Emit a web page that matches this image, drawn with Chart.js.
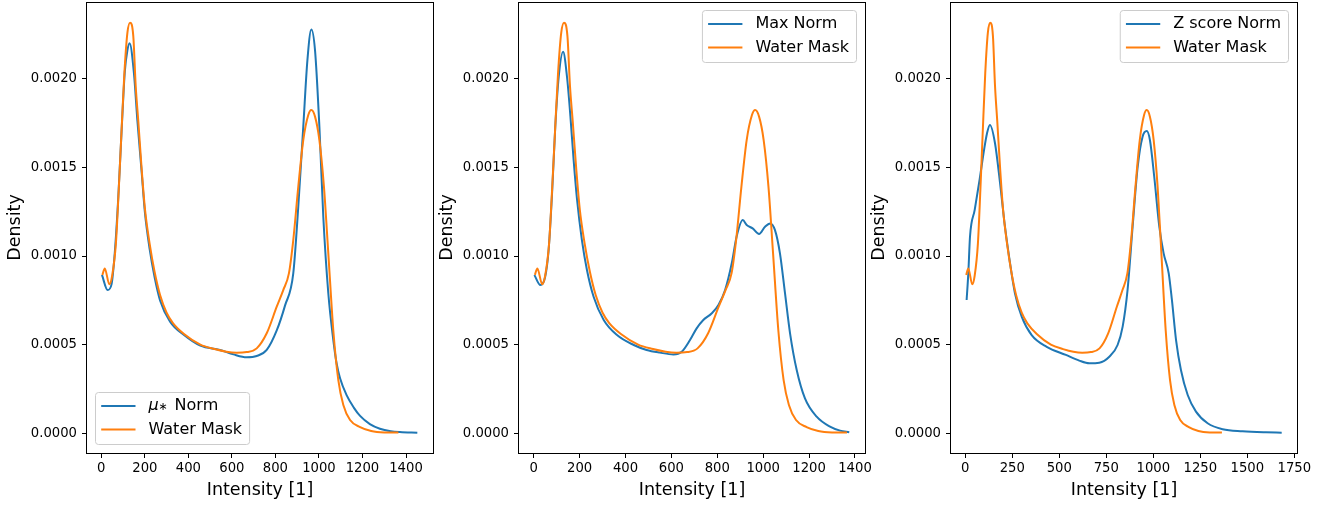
<!DOCTYPE html>
<html>
<head>
<meta charset="utf-8">
<script src="https://cdn.jsdelivr.net/npm/chart.js@4.4.1/dist/chart.umd.min.js"></script>
<style>
  html, body { margin: 0; padding: 0; background: #fff; }
  #wrap { position: relative; width: 1332px; height: 506px; overflow: hidden; }
  .panel { position: absolute; top: 0; }
</style>
</head>
<body>
<div id="wrap">
  <div class="panel" style="left:0px"><canvas id="c1" width="468" height="506"></canvas></div>
  <div class="panel" style="left:432px"><canvas id="c2" width="468" height="506"></canvas></div>
  <div class="panel" style="left:864px"><canvas id="c3" width="468" height="506"></canvas></div>
</div>
<script>
// Water Mask density (same curve in all three panels)
const waterX = [5, 16, 37, 50, 67, 80, 92, 106, 120, 132, 147, 158, 170, 186, 201, 222, 245, 270, 300, 330, 380, 455, 520, 575, 622, 668, 714, 760, 806, 836, 862, 882, 905, 928, 951, 965, 982, 1002, 1023, 1043, 1066, 1089, 1112, 1143, 1189, 1240, 1300, 1365];
const waterY = [0.000893, 0.00093, 0.00084, 0.00089, 0.00107, 0.00137, 0.00168, 0.00203, 0.00226, 0.002316, 0.00224, 0.00196, 0.00176, 0.00148, 0.00126, 0.00107, 0.00091, 0.00078, 0.00068, 0.00062, 0.00056, 0.0005, 0.000475, 0.00046, 0.000455, 0.000458, 0.000479, 0.000564, 0.000714, 0.000808, 0.000902, 0.00109, 0.00139, 0.001654, 0.001795, 0.001823, 0.001786, 0.001654, 0.00139, 0.001015, 0.00058, 0.0003, 0.00016, 0.000075, 0.000035, 0.000013, 0.000005, 0.000004];

// mu* Norm
const muX = [3, 29, 47, 62, 78, 93, 108, 120, 130, 150, 166, 185, 200, 222, 245, 270, 316, 380, 455, 545, 607, 668, 714, 760, 806, 844, 882, 905, 928, 947, 965, 982, 1002, 1020, 1043, 1066, 1081, 1097, 1127, 1160, 1189, 1234, 1280, 1330, 1372, 1452];
const muY = [0.000893, 0.000808, 0.00084, 0.00102, 0.00133, 0.0017, 0.00204, 0.00216, 0.0022, 0.00203, 0.00176, 0.00148, 0.00125, 0.00104, 0.00088, 0.00075, 0.00063, 0.000555, 0.000495, 0.00047, 0.000445, 0.000429, 0.000436, 0.00047, 0.00058, 0.00072, 0.000902, 0.001278, 0.00173, 0.002105, 0.002278, 0.00216, 0.00173, 0.00122, 0.00079, 0.000526, 0.000395, 0.00031, 0.000215, 0.000145, 0.000098, 0.000052, 0.000026, 0.000012, 0.000007, 0.000003];

// Max Norm
const maxX = [3, 29, 50, 65, 80, 94, 109, 128, 145, 160, 174, 189, 210, 232, 261, 305, 363, 436, 492, 550, 609, 645, 681, 710, 739, 776, 805, 834, 863, 884, 911, 928, 954, 982, 1008, 1030, 1051, 1073, 1095, 1117, 1146, 1182, 1233, 1291, 1335, 1375];
const maxY = [0.000893, 0.000836, 0.000883, 0.001034, 0.001354, 0.00173, 0.002011, 0.002152, 0.002011, 0.001786, 0.001541, 0.001316, 0.00109, 0.000921, 0.00077, 0.000639, 0.000554, 0.000498, 0.00047, 0.000455, 0.000445, 0.00046, 0.000526, 0.000592, 0.000639, 0.000677, 0.000724, 0.000808, 0.000959, 0.001109, 0.001203, 0.001175, 0.001156, 0.001124, 0.001165, 0.001184, 0.001147, 0.001015, 0.00079, 0.000564, 0.000357, 0.000197, 0.000094, 0.0000376, 0.000015, 0.0000056];

// Z score Norm
const zX = [7, 16, 25, 50, 76, 100, 115, 131, 158, 185, 211, 238, 264, 300, 353, 433, 535, 606, 660, 713, 766, 810, 837, 863, 890, 917, 943, 965, 982, 1005, 1032, 1055, 1082, 1099, 1121, 1147, 1183, 1227, 1289, 1369, 1475, 1599, 1683];
const zY = [0.000752, 0.000902, 0.00111, 0.00126, 0.00143, 0.0016, 0.00169, 0.001739, 0.001636, 0.00141, 0.001165, 0.000959, 0.00079, 0.000658, 0.000554, 0.000488, 0.000442, 0.00041, 0.000395, 0.000398, 0.000432, 0.000498, 0.000602, 0.000808, 0.001165, 0.001504, 0.001673, 0.001705, 0.001654, 0.001447, 0.001165, 0.001015, 0.000902, 0.000752, 0.000526, 0.000357, 0.000216, 0.000122, 0.0000564, 0.0000226, 0.0000113, 0.0000056, 0.0000038];

const xTicks1 = [0, 200, 400, 600, 800, 1000, 1200, 1400];
const xTicks3 = [0, 250, 500, 750, 1000, 1250, 1500, 1750];
const yTicks = [0, 0.0005, 0.001, 0.0015, 0.002];

const BLUE = '#1f77b4', ORANGE = '#ff7f0e';
const FONT = '"DejaVu Sans", sans-serif';
Chart.defaults.font.family = FONT;
Chart.defaults.color = '#000';

const pts = (xs, ys) => xs.map((x, i) => ({x: x, y: ys[i]}));

function labelWidth(ctx, text, fs) {
  ctx.font = fs + 'px ' + FONT;
  if (text.startsWith('μ∗')) return 21 + ctx.measureText(text.slice(2)).width;
  return ctx.measureText(text).width;
}

function drawLabel(ctx, text, x, y, fs) {
  ctx.fillStyle = '#000';
  ctx.textBaseline = 'middle';
  ctx.textAlign = 'left';
  if (text.startsWith('μ∗')) {
    ctx.font = 'italic ' + fs + 'px ' + FONT;
    ctx.fillText('μ', x, y);
    ctx.font = '11px ' + FONT;
    ctx.fillText('∗', x + 10, y + 1.5);
    ctx.font = fs + 'px ' + FONT;
    ctx.fillText(text.slice(2), x + 21, y);
  } else {
    ctx.font = fs + 'px ' + FONT;
    ctx.fillText(text, x, y);
  }
}

// matplotlib style legend box inside the axes
const mplLegend = {
  id: 'mplLegend',
  afterDraw(chart, args, opts) {
    const ctx = chart.ctx, a = chart.chartArea, fs = 16;
    const items = chart.data.datasets.map(d => ({text: d.label, color: d.borderColor}));
    ctx.save();
    const tw = Math.max(...items.map(it => labelWidth(ctx, it.text, fs)));
    const w = 53 + tw + 7.5, h = 52;
    const x0 = opts.loc === 'lower left' ? a.left + 8.5 : a.right - 8.5 - w;
    const y0 = opts.loc === 'lower left' ? a.bottom - 8.5 - h : a.top + 8.5;
    ctx.beginPath();
    ctx.roundRect(x0, y0, w, h, 3);
    ctx.fillStyle = 'rgba(255,255,255,0.8)';
    ctx.fill();
    ctx.strokeStyle = '#cccccc';
    ctx.lineWidth = 1;
    ctx.stroke();
    items.forEach((it, i) => {
      const cy = y0 + 13.5 + i * 23.6;
      ctx.beginPath();
      ctx.moveTo(x0 + 5.7, cy);
      ctx.lineTo(x0 + 40, cy);
      ctx.strokeStyle = it.color;
      ctx.lineWidth = 2;
      ctx.stroke();
      drawLabel(ctx, it.text, x0 + 53, cy, fs);
    });
    ctx.restore();
  }
};

// black frame round the plot area
const frame = {
  id: 'frame',
  afterDatasetsDraw(chart) {
    const ctx = chart.ctx, a = chart.chartArea;
    ctx.save();
    ctx.strokeStyle = '#000';
    ctx.lineWidth = 1;
    ctx.strokeRect(a.left - 0.5, a.top + 0.5, a.right - a.left + 1, a.bottom - a.top);
    ctx.restore();
  }
};

function makeChart(id, label, xs, ys, xMin, xMax, xTicks, loc) {
  new Chart(document.getElementById(id), {
    type: 'line',
    data: {
      datasets: [
        {label: label, data: pts(xs, ys), borderColor: BLUE, order: 1},
        {label: 'Water Mask', data: pts(waterX, waterY), borderColor: ORANGE, order: 0}
      ]
    },
    options: {
      responsive: false,
      animation: false,
      layout: {padding: {left: 0, right: 35, top: 2, bottom: 0}},
      elements: {
        point: {radius: 0},
        line: {borderWidth: 2, cubicInterpolationMode: 'monotone', fill: false}
      },
      plugins: {legend: {display: false}, tooltip: {enabled: false}, mplLegend: {loc: loc}},
      scales: {
        x: {
          type: 'linear', min: xMin, max: xMax,
          afterBuildTicks: s => { s.ticks = xTicks.map(v => ({value: v})); },
          afterFit: s => { s.height = 53; s.paddingLeft = 0; s.paddingRight = 0; },
          grid: {drawOnChartArea: false, drawTicks: true, tickLength: 5, color: '#000', lineWidth: 1},
          border: {display: false},
          ticks: {font: {size: 13.2}, color: '#000', padding: 2.5, maxRotation: 0, autoSkip: false, callback: v => String(v)},
          title: {display: true, text: 'Intensity [1]', color: '#000', font: {size: 17.5, lineHeight: 1.2}, padding: {top: 0, bottom: 5}}
        },
        y: {
          min: -0.0001111, max: 0.0024326,
          afterBuildTicks: s => { s.ticks = yTicks.map(v => ({value: v})); },
          afterFit: s => { s.width = 87; s.paddingTop = 0; s.paddingBottom = 0; },
          grid: {drawOnChartArea: false, drawTicks: true, tickLength: 5, color: '#000', lineWidth: 1},
          border: {display: false},
          ticks: {font: {size: 13.2}, color: '#000', padding: 5, autoSkip: false, callback: v => v.toFixed(4)},
          title: {display: true, text: 'Density', color: '#000', font: {size: 17.5, lineHeight: 1.2}, padding: {top: 4.5, bottom: 0}}
        }
      }
    },
    plugins: [frame, mplLegend]
  });
}

makeChart('c1', 'μ∗ Norm', muX, muY, -65.7, 1524, xTicks1, 'lower left');
makeChart('c2', 'Max Norm', maxX, maxY, -64.1, 1443.6, xTicks1, 'upper right');
makeChart('c3', 'Z score Norm', zX, zY, -76.1, 1764.4, xTicks3, 'upper right');
</script>
</body>
</html>
